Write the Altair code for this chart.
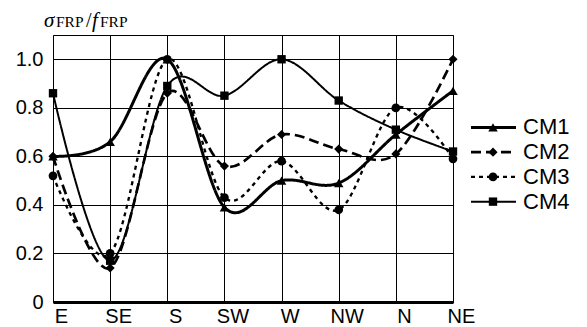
import altair as alt
import pandas as pd

dirs = ["E", "SE", "S", "SW", "W", "NW", "N", "NE"]
cm1 = [0.60, 0.66, 1.00, 0.39, 0.50, 0.49, 0.69, 0.87]
cm2 = [0.60, 0.14, 0.86, 0.56, 0.69, 0.63, 0.61, 1.00]
cm3 = [0.52, 0.20, 1.00, 0.43, 0.58, 0.38, 0.80, 0.59]
cm4 = [0.86, 0.17, 0.89, 0.85, 1.00, 0.83, 0.71, 0.62]
names = ["CM1", "CM2", "CM3", "CM4"]
y_ticks = [0, 0.2, 0.4, 0.6, 0.8, 1.0]

rows = []
for name, vals in zip(names, [cm1, cm2, cm3, cm4]):
    for d, v in zip(dirs, vals):
        rows.append({"series": name, "dir": d, "value": v})
df = pd.DataFrame(rows)

SANS = "Liberation Sans"
SERIF = "Liberation Serif"

dash_scale = alt.Scale(domain=names, range=[[1, 0], [10, 5], [4, 4], [1, 0]])
width_scale = alt.Scale(domain=names, range=[3, 2, 2.2, 1.2])
shape_scale = alt.Scale(domain=names, range=["triangle-up", "diamond", "circle", "square"])
size_scale = alt.Scale(domain=names, range=[90, 70, 140, 120])

x_enc = alt.X("dir:N", sort=dirs,
              scale=alt.Scale(type="point", padding=0),
              axis=alt.Axis(title=None, grid=True, ticks=False, labelAngle=0,
                            labelFontSize=20, labelFont=SANS, labelColor="black",
                            labelPadding=4, labelOffset=8, domainWidth=3, domainColor="black",
                            gridColor="black", gridWidth=1, gridOpacity=1))
y_enc = alt.Y("value:Q", scale=alt.Scale(domain=[0, 1.1], nice=False),
              axis=alt.Axis(title=None, values=y_ticks, grid=True, ticks=False,
                            domain=False, labelFontSize=20, labelFont=SANS,
                            labelColor="black", labelPadding=10,
                            labelExpr="datum.value == 0 ? '0' : format(datum.value, '.1f')",
                            gridColor="black", gridWidth=1, gridOpacity=1))

base = alt.Chart(df)
lines = base.mark_line(interpolate="cardinal", color="black").encode(
    x=x_enc, y=y_enc,
    strokeDash=alt.StrokeDash("series:N", scale=dash_scale, legend=None),
    strokeWidth=alt.StrokeWidth("series:N", scale=width_scale, legend=None),
    detail="series:N",
)
points = base.mark_point(filled=True, color="black", opacity=1).encode(
    x=alt.X("dir:N", sort=dirs), y="value:Q",
    shape=alt.Shape("series:N", scale=shape_scale, legend=None),
    size=alt.Size("series:N", scale=size_scale, legend=None),
)

# axis title made of text pieces (sigma_FRP / f_FRP)
title_parts = [
    ("σ", -9, 21, "italic", -8),
    ("FRP", 3, 15.5, "normal", -8),
    ("/", 33, 20, "normal", -8),
    ("f", 39, 21, "italic", -8),
    ("FRP", 47, 15.5, "normal", -8),
]
title_layers = []
for txt, xx, fs, style, yy in title_parts:
    title_layers.append(
        alt.Chart(pd.DataFrame({"t": [txt]})).mark_text(
            align="left", baseline="alphabetic", font=SERIF, fontSize=fs,
            fontStyle=style, color="black"
        ).encode(text="t:N", x=alt.value(xx), y=alt.value(yy))
    )

main = alt.layer(lines, points, *title_layers).properties(
    width=400, height=267,
    view=alt.ViewBackground(stroke="black", strokeWidth=1),
)

leg_df = pd.DataFrame({"series": names})
leg_y = alt.Y("series:N", scale=alt.Scale(type="point", domain=names, range=[80, 179]), axis=None)
leg_base = alt.Chart(leg_df)
leg_lines = leg_base.mark_rule(color="black").encode(
    y=leg_y, x=alt.value(0), x2=alt.value(45),
    strokeDash=alt.StrokeDash("series:N", scale=dash_scale, legend=None),
    strokeWidth=alt.StrokeWidth("series:N", scale=width_scale, legend=None),
)
leg_pts = leg_base.mark_point(filled=True, color="black", opacity=1).encode(
    y=leg_y, x=alt.value(22),
    shape=alt.Shape("series:N", scale=shape_scale, legend=None),
    size=alt.Size("series:N", scale=size_scale, legend=None),
)
leg_txt = leg_base.mark_text(align="left", baseline="middle", font=SANS,
                             fontSize=22, color="black").encode(
    y=leg_y, x=alt.value(52), text="series:N")
legend = alt.layer(leg_lines, leg_pts, leg_txt).properties(
    width=100, height=267,
    view=alt.ViewBackground(stroke=None),
)

chart = alt.hconcat(main, legend, spacing=18, bounds="flush").resolve_scale(
    y="independent"
).properties(padding={"left": 6, "top": 1, "right": 0, "bottom": 0})

chart.save("out.html", embed_options={"renderer": "svg", "actions": False})
